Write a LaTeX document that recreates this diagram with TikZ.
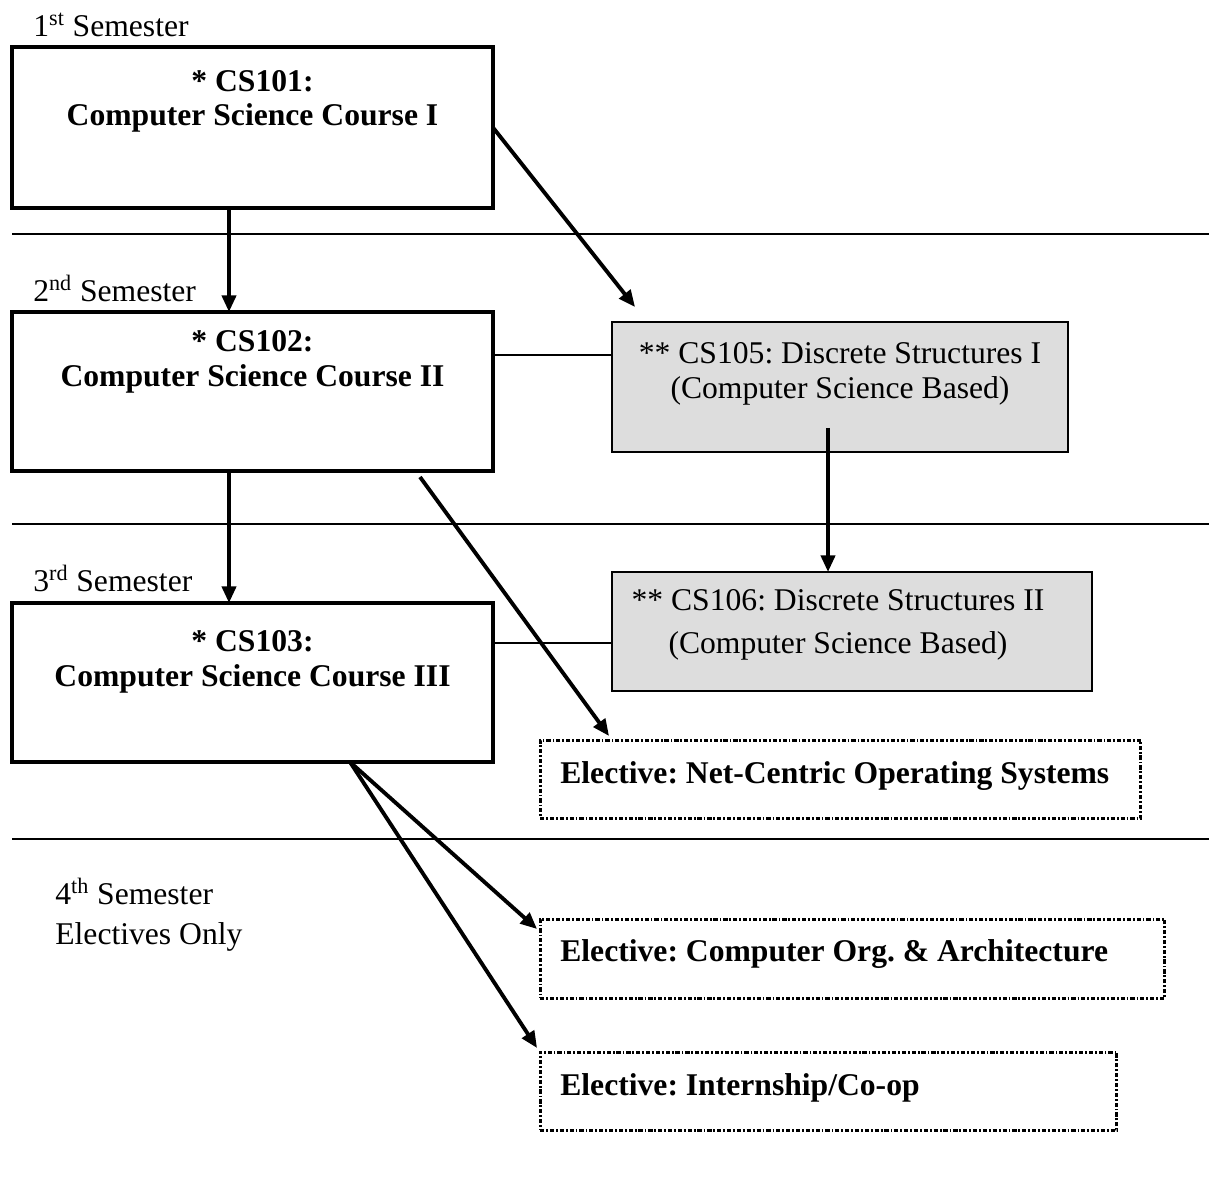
\documentclass[tikz,border=0pt]{standalone}
\usepackage{fontspec}
\setmainfont{Liberation Serif}
\usepackage{xcolor}
\usetikzlibrary{arrows.meta}
\definecolor{boxgray}{HTML}{DDDDDD}
\tikzset{
  course/.style={draw, line width=2.2pt, inner sep=0pt, outer sep=0pt, minimum width=9.62cm},
  discrete/.style={draw, fill=boxgray, line width=1.5pt, inner sep=0pt, outer sep=0pt},
  elective/.style={draw, line width=1.7pt, dash pattern=on 2.4pt off 1.1pt on 1pt off 1.1pt,
    inner sep=0pt, outer sep=0pt},
  txt/.style={font=\fontsize{18}{20}\selectfont, inner sep=0pt},
  txtb/.style={font=\fontsize{18}{20}\selectfont\bfseries, inner sep=0pt, align=center},
  arr/.style={line width=2.2pt, -{Triangle[length=9.5pt,width=8pt]}},
  link/.style={line width=1.1pt},
  semline/.style={line width=1.2pt}
}

\begin{document}
\frenchspacing
\begin{tikzpicture}[x=0.02cm, y=-0.02cm]
            \useasboundingbox (0,0) rectangle (1209,1180);
            % semester dividers
            \draw[semline] (12,234) -- (1209,234);
            \draw[semline] (12,524) -- (1209,524);
            \draw[semline] (12,839) -- (1209,839);
            \node[txt, anchor=west] (sem1) at (33,25) {1\textsuperscript{st} Semester};
            \node[txt, anchor=west] (sem2) at (33,288) {2\textsuperscript{nd} Semester};
            \node[txt, anchor=west] (sem3) at (33,578) {3\textsuperscript{rd} Semester};
            \node[txt, anchor=west, align=left] (sem4) at (55,915) {4\textsuperscript{th} Semester\\[2.7pt]Electives Only};
            % core courses
            \node[course, minimum height=3.22cm] (cs101) at (252.5,127.5) {};
            \node[course, minimum height=3.18cm] (cs102) at (252.5,391.5) {};
            \node[course, minimum height=3.18cm] (cs103) at (252.5,682.5) {};
            \node[txtb] (t101) at (252.5,101.5) {* CS101:\\[-1pt]Computer Science Course I};
            \node[txtb] (t102) at (252.5,362) {* CS102:\\Computer Science Course II};
            \node[txtb] (t103) at (252.5,662) {* CS103:\\Computer Science Course III};
            \node[discrete, minimum width=9.12cm, minimum height=2.6cm] (cs105) at (840,387) {};
            \node[discrete, minimum width=9.6cm, minimum height=2.38cm] (cs106) at (852,631.5) {};
            \node[txt, align=center] (t105) at (840,373.5) {** CS105: Discrete Structures I\\(Computer Science Based)};
            \node[txt, align=center] (t106) at (838,624.5) {** CS106: Discrete Structures II\\[4.5pt](Computer Science Based)};
            % electives
            \node[elective, minimum width=12.02cm, minimum height=1.56cm] (el1) at (840.5,779) {};
            \node[elective, minimum width=12.5cm, minimum height=1.58cm] (el2) at (852.5,958.5) {};
            \node[elective, minimum width=11.54cm, minimum height=1.56cm] (el3) at (828.5,1091) {};
            \node[txtb, anchor=west] (t401) at (560,776) {Elective: Net-Centric Operating Systems};
            \node[txtb, anchor=west] (t402) at (560,954) {Elective: Computer Org. \& Architecture};
            \node[txtb, anchor=west] (t403) at (560,1088) {Elective: Internship/Co-op};
            % connectors
            \coordinate (spine) at (229,0);
            \draw[arr] (cs101.south -| spine) -- (cs102.north -| spine);
            \draw[arr] (cs102.south -| spine) -- (cs103.north -| spine);
            \draw[arr] (cs101.east) -- ([shift={(23,-15)}]cs105.north west);
            \coordinate (j105) at ([shift={(0,-32)}]cs105.west);
            \draw[link] (cs102.east |- j105) -- (j105);
            \coordinate (j106) at ([shift={(0,11.5)}]cs106.west);
            \draw[link] (cs103.east |- j106) -- (j106);
            \coordinate (d105) at ([shift={(-12,-24)}]cs105.south);
            \draw[arr] (d105) -- (cs106.north -| d105);
            \draw[arr] ([shift={(167.5,6)}]cs102.south) -- ([shift={(69,-4)}]el1.north west);
            \coordinate (fork) at ([shift={(97.5,0)}]cs103.south);
            \draw[arr] (fork) -- ([shift={(-3,10)}]el2.north west);
            \draw[arr] (fork) -- ([shift={(-3,-4)}]el3.north west);
\end{tikzpicture}
\end{document}
